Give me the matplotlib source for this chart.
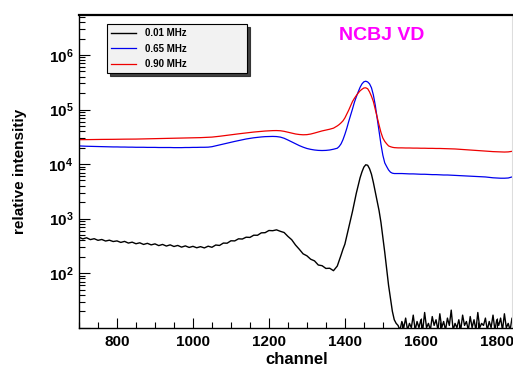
import numpy as np
import matplotlib
matplotlib.use('Agg')
import matplotlib.pyplot as plt
from matplotlib.ticker import MultipleLocator, LogLocator, FuncFormatter, NullFormatter

plt.rcParams['font.family'] = ['Liberation Sans', 'DejaVu Sans']
plt.rcParams['font.weight'] = 'bold'
plt.rcParams['mathtext.fontset'] = 'custom'
plt.rcParams['mathtext.rm'] = 'Liberation Sans:bold'
plt.rcParams['mathtext.bf'] = 'Liberation Sans:bold'
plt.rcParams['mathtext.it'] = 'Liberation Sans:bold'

# ---------------- data ----------------
labels = ['0.01 MHz', '0.65 MHz', '0.90 MHz']
colors = ['black', '#0000ee', '#ee0000']

ch_main = np.arange(700, 1380, 10)     # 68 channels
ch_peak = np.arange(1380, 1540, 5)     # 32 channels
ch_tail = np.arange(1540, 1851, 10)    # 32 channels
ch_floor = np.arange(1540, 1851, 5)    # 63 channels

black_main = [455, 425, 445, 412, 428, 400, 414, 388, 402, 380,
              390, 366, 382, 356, 370, 346, 360, 336, 352, 330,
              344, 320, 336, 314, 330, 308, 322, 300, 316, 296,
              310, 292, 306, 290, 312, 298, 328, 322, 356, 354,
              392, 390, 426, 422, 456, 452, 496, 495, 548, 552,
              605, 600, 622, 585, 556, 472, 410, 328, 274, 226,
              208, 180, 168, 141, 137, 122, 123, 111]
black_peak = [135, 170, 215, 275, 340, 480, 680, 950, 1350, 2000,
              2900, 4000, 5600, 7200, 8800, 9700, 9500, 8200, 6500, 4600,
              3100, 2100, 1400, 850, 450, 240, 120, 60, 35, 20,
              14, 12]
black_floor = [11, 9, 13, 10, 15, 9, 12, 10, 17, 9,
               13, 10, 14, 9, 19, 10, 12, 9, 16, 11,
               14, 9, 18, 10, 13, 9, 15, 11, 21, 9,
               12, 10, 14, 9, 17, 11, 13, 9, 16, 10,
               14, 9, 19, 10, 12, 11, 15, 9, 13, 10,
               17, 9, 14, 11, 15, 9, 18, 10, 12, 9,
               15, 11, 13]

blue_main = [21500, 21300, 21200, 21100, 21000, 20900, 20800, 20700, 20700, 20600,
             20600, 20500, 20500, 20400, 20400, 20300, 20300, 20300, 20200, 20200,
             20200, 20100, 20100, 20100, 20100, 20000, 20000, 20000, 20100, 20100,
             20200, 20200, 20300, 20300, 20400, 20800, 21600, 22400, 23300, 24200,
             25100, 26000, 26900, 27800, 28800, 29600, 30300, 30900, 31400, 31800,
             32000, 32100, 31900, 31200, 29700, 27600, 25500, 23500, 21800, 20400,
             19300, 18600, 18100, 17800, 17700, 17800, 18100, 18700]
blue_peak = [19500, 21000, 23500, 28000, 35000, 45000, 60000, 78000, 102000, 135000,
             170000, 210000, 255000, 295000, 322000, 330000, 320000, 295000, 250000, 185000,
             120000, 70000, 40000, 23000, 14500, 10500, 9000, 7800, 7100, 6800,
             6700, 6700]
blue_tail = [6700, 6700, 6650, 6600, 6600, 6550, 6500, 6500, 6450, 6400,
             6400, 6350, 6300, 6300, 6250, 6200, 6150, 6100, 6050, 6000,
             5950, 5900, 5850, 5800, 5700, 5600, 5550, 5500, 5500, 5550,
             5800, 6000]

red_main = [28000, 28000, 28100, 28100, 28200, 28200, 28300, 28300, 28400, 28400,
            28500, 28500, 28600, 28600, 28700, 28700, 28800, 28900, 29000, 29000,
            29100, 29200, 29300, 29400, 29500, 29600, 29700, 29800, 29900, 30000,
            30100, 30300, 30500, 30700, 30900, 31200, 31700, 32300, 33000, 33700,
            34400, 35100, 35800, 36500, 37200, 37900, 38600, 39200, 39800, 40300,
            40700, 41000, 41100, 40800, 39800, 38300, 36800, 35600, 34800, 34400,
            34600, 35500, 37000, 38800, 40500, 42000, 43500, 45500]
red_peak = [50000, 53000, 57000, 62000, 70000, 82000, 97000, 117000, 140000, 160000,
            180000, 200000, 220000, 235000, 248000, 250000, 240000, 210000, 175000, 140000,
            100000, 72000, 52000, 38000, 30000, 26000, 23500, 21500, 20800, 20300,
            20000, 19900]
red_tail = [19800, 19800, 19700, 19700, 19600, 19600, 19500, 19500, 19400, 19400,
            19300, 19300, 19200, 19100, 19000, 18900, 18700, 18500, 18300, 18100,
            17900, 17700, 17500, 17300, 17100, 16900, 16800, 16700, 16600, 16700,
            17100, 17500]

black_x = np.concatenate([ch_main, ch_peak, ch_floor])
black_y = np.array(black_main + black_peak + black_floor, dtype=float)
blue_x = np.concatenate([ch_main, ch_peak, ch_tail])
blue_y = np.array(blue_main + blue_peak + blue_tail, dtype=float)
red_x = np.concatenate([ch_main, ch_peak, ch_tail])
red_y = np.array(red_main + red_peak + red_tail, dtype=float)

# ---------------- figure ----------------
W, H = 513, 365
fig = plt.figure(figsize=(W / 100, H / 100), dpi=100)
ax_l, ax_r, ax_t, ax_b = 79, 512, 15, 327.7
ax = fig.add_axes([ax_l / W, 1 - ax_b / H, (ax_r - ax_l) / W, (ax_b - ax_t) / H])

lines = []
for xs, ys, c, lab, lw in [(black_x, black_y, colors[0], labels[0], 1.0),
                           (blue_x, blue_y, colors[1], labels[1], 0.9),
                           (red_x, red_y, colors[2], labels[2], 0.9)]:
    ln, = ax.plot(xs, ys, color=c, lw=lw, label=lab)
    lines.append(ln)

ax.set_yscale('log')
ax.set_xlim(700, 1840)
ax.set_ylim(10, 5.4e6)

ax.xaxis.set_major_locator(MultipleLocator(200))
ax.xaxis.set_minor_locator(MultipleLocator(50))
ax.yaxis.set_major_locator(LogLocator(base=10, numticks=20))
ax.yaxis.set_minor_locator(LogLocator(base=10, subs=np.arange(2, 10), numticks=20))
ax.yaxis.set_minor_formatter(NullFormatter())
ax.yaxis.set_major_formatter(FuncFormatter(
    lambda v, p: r'$\mathbf{10^{%d}}$' % int(round(np.log10(v))) if v >= 100 else ''))

ax.tick_params(axis='x', which='major', direction='in', length=7, width=0.8,
               labelsize=11, pad=5, top=False)
ax.tick_params(axis='x', which='minor', direction='in', length=4, width=0.8, top=False)
ax.tick_params(axis='y', which='major', direction='in', length=8, width=0.8,
               labelsize=11, pad=4, right=False)
ax.tick_params(axis='y', which='minor', direction='in', length=4.5, width=0.8, right=False)
for t in ax.get_xticklabels() + ax.get_yticklabels():
    t.set_fontweight('bold')

ax.spines['top'].set_linewidth(1.6)
ax.spines['left'].set_linewidth(1.0)
ax.spines['bottom'].set_linewidth(1.0)
ax.spines['right'].set_color('#dddddd')
ax.spines['right'].set_linewidth(0.8)

# legend
leg = ax.legend(handles=lines, loc='upper left',
                bbox_to_anchor=(107 / W, 1 - 70 / H, 140 / W, 46 / H),
                bbox_transform=fig.transFigure, mode='expand',
                prop={'size': 7, 'weight': 'bold'}, frameon=True, fancybox=False,
                shadow={'color': '#222222', 'alpha': 0.85},
                facecolor='#f2f2f2', edgecolor='black', framealpha=1,
                handlelength=2.5, handletextpad=1.0, labelspacing=0.55,
                borderpad=0.45, borderaxespad=0)
leg.get_frame().set_linewidth(0.8)

fig.text(381.7 / W, 1 - 35 / H, 'NCBJ VD', color='#ff00ff', fontsize=14,
         fontweight='bold', ha='center', va='center')
fig.text(297 / W, 1 - 363.5 / H, 'channel', fontsize=12, fontweight='bold',
         ha='center', va='baseline')
fig.text(20 / W, 1 - 171 / H, 'relative intensitiy', fontsize=11, fontweight='bold',
         ha='center', va='center', rotation=90)

fig.savefig('out.png', dpi=100)
